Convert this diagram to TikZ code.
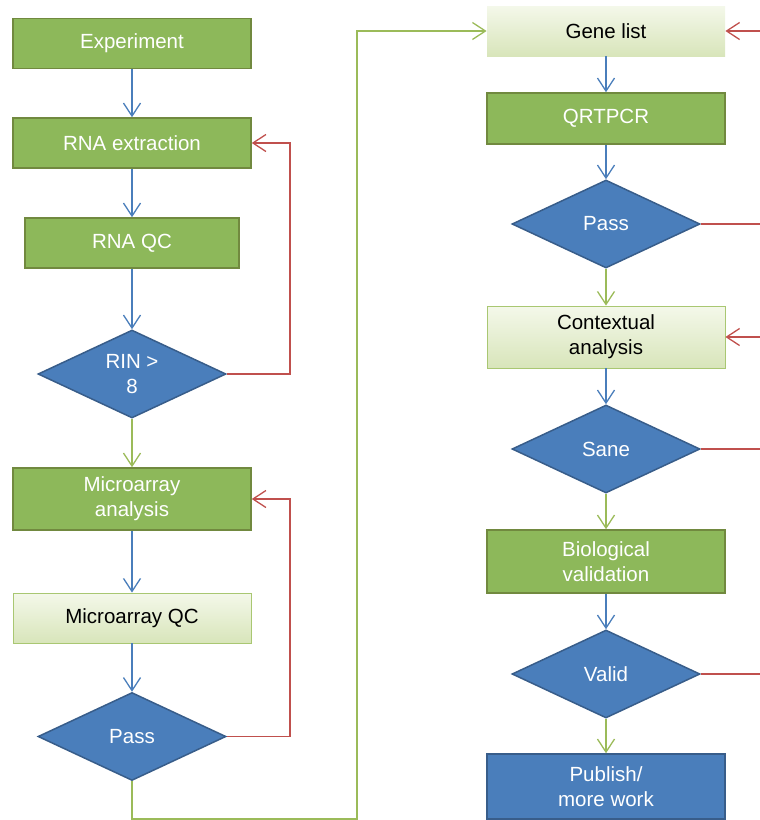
\documentclass[tikz,border=0pt]{standalone}
\usepackage{fontspec}
\setmainfont{Liberation Sans}
\usetikzlibrary{shapes.geometric,arrows.meta}
\definecolor{boxgreen}{HTML}{8DB85A}
\definecolor{boxgreenborder}{HTML}{71893F}
\definecolor{diablue}{HTML}{4A7EBB}
\definecolor{diaborder}{HTML}{385D8A}
\definecolor{lighttop}{HTML}{F4F8EA}
\definecolor{lightbot}{HTML}{D8E5BA}
\definecolor{lightborder}{HTML}{A9C772}
\definecolor{lineblue}{HTML}{4A7EBB}
\definecolor{linegreen}{HTML}{9BBB59}
\definecolor{linered}{HTML}{C0504D}
\tikzset{
  txt/.style={font=\fontsize{20.5}{25}\selectfont, align=center, inner sep=0pt},
  gbox/.style={txt, rectangle, fill=boxgreen, draw=boxgreenborder, line width=1.5pt, text=white, minimum width=238pt, minimum height=50pt},
  lbox/.style={txt, rectangle, top color=lighttop, bottom color=lightbot, draw=lightborder, line width=0.8pt, text=black, minimum width=238pt, minimum height=50pt},
  bbox/.style={txt, rectangle, fill=diablue, draw=diaborder, line width=1.5pt, text=white, minimum width=238pt, minimum height=63pt},
  dia/.style={txt, diamond, aspect=2.14, fill=diablue, draw=diaborder, line width=1.5pt, text=white, minimum width=188pt, minimum height=88pt},
  arr/.style={line width=1.3pt, -{Straight Barb[length=13pt,width=17pt,line width=1.3pt]}},
  bl/.style={arr, draw=lineblue},
  gl/.style={arr, draw=linegreen},
  rl/.style={arr, draw=linered},
  rline/.style={line width=1.3pt, draw=linered},
}
\begin{document}
\begin{tikzpicture}[x=1pt,y=-1pt]
\useasboundingbox (0,0) rectangle (760,820);
% left column
\node[gbox] (exp) at (132,43.5) {Experiment};
\node[gbox] (rnaext) at (132,143) {RNA extraction};
\node[gbox, minimum width=214pt] (rnaqc) at (132,243) {RNA QC};
\node[dia] (rin) at (132,374) {RIN >\\8};
\node[gbox, minimum height=62pt] (maa) at (132,499) {Microarray\\analysis};
\node[lbox] (maqc) at (132,618) {Microarray QC};
\node[dia] (pass1) at (132,736.5) {Pass};
% right column
\node[lbox, draw=none] (gene) at (606,31) {Gene list};
\node[gbox, minimum height=51pt] (qrt) at (606,118.5) {QRTPCR};
\node[dia] (pass2) at (606,224) {Pass};
\node[lbox, minimum height=62pt] (ctx) at (606,337) {Contextual\\analysis};
\node[dia] (sane) at (606,449) {Sane};
\node[gbox, minimum height=63pt] (bio) at (606,561.5) {Biological\\validation};
\node[dia] (valid) at (606,674) {Valid};
\node[bbox, minimum height=65pt] (pub) at (606,786.5) {Publish/\\more work};
% coordinates
\coordinate (lb) at (132,819);
\coordinate (lc) at (357,819);
\coordinate (r1) at (290,300);
\coordinate (edge) at (762,0);
% blue connectors
\draw[bl] (exp) -- (rnaext);
\draw[bl] (rnaext) -- (rnaqc);
\draw[bl] (rnaqc) -- (rin);
\draw[bl] (maa) -- (maqc);
\draw[bl] (maqc) -- (pass1);
\draw[bl] (gene) -- (qrt);
\draw[bl] (qrt) -- (pass2);
\draw[bl] (ctx) -- (sane);
\draw[bl] (bio) -- (valid);
% green connectors
\draw[gl] (rin) -- (maa);
\draw[gl] (pass1.south) -- (lb) -- (lc) |- (gene.west);
\draw[gl] (pass2) -- (ctx);
\draw[gl] (sane) -- (bio);
\draw[gl] (valid) -- (pub);
% red connectors
\draw[rl] (rin.east) -| (r1) |- (rnaext.east);
\draw[rl] (pass1.east) -| (r1 |- maa.east) -- (maa.east);
\draw[rline] (pass2.east) -- (pass2.east -| edge);
\draw[rline] (sane.east) -- (sane.east -| edge);
\draw[rline] (valid.east) -- (valid.east -| edge);
\draw[rl] (gene.east -| edge) -- (gene.east);
\draw[rl] (ctx.east -| edge) -- (ctx.east);
\end{tikzpicture}
\end{document}
